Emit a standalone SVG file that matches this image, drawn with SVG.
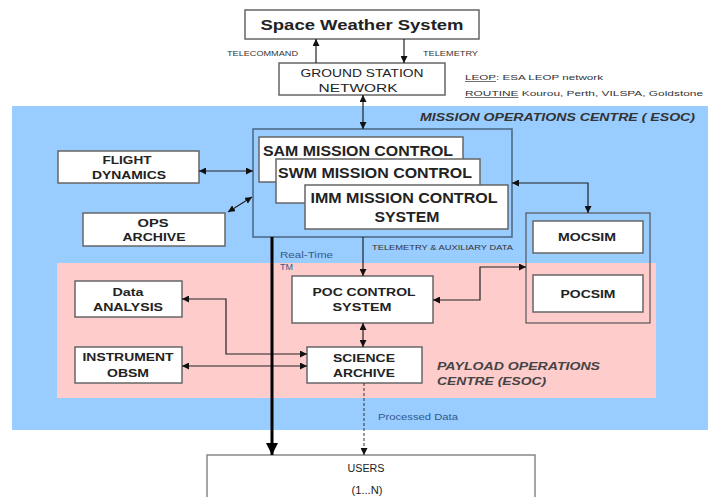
<svg xmlns="http://www.w3.org/2000/svg" width="708" height="497" viewBox="0 0 708 497">
<defs>
<marker id="ah" viewBox="0 0 10 10" refX="10" refY="5" markerWidth="7" markerHeight="7" markerUnits="userSpaceOnUse" orient="auto-start-reverse"><path d="M0,0 L10,5 L0,10 z" fill="#111"/></marker>
<marker id="big" viewBox="0 0 10 10" refX="10" refY="5" markerWidth="4" markerHeight="4" orient="auto"><path d="M0,0 L10,5 L0,10 z" fill="#000"/></marker>
</defs>
<style>
.box{fill:#fff;stroke:#666;stroke-width:1.5}
.t{font-family:"Liberation Sans",Arial,sans-serif;fill:#222;text-anchor:middle}
.b{font-weight:bold}
.sm{font-family:"Liberation Sans",Arial,sans-serif;fill:#333;font-size:7px}
.bl{font-family:"Liberation Sans",Arial,sans-serif;fill:#335a88;font-size:9px}
.c{fill:none;stroke:#222;stroke-width:1.2}
</style>
<rect x="12" y="106" width="696" height="324" fill="#99ccff"/>
<rect x="57" y="263" width="599" height="135" fill="#ffcccc"/>

<g id="sws"><rect class="box" x="245" y="10" width="234" height="29"/><text class="t b" x="362" y="30" font-size="15" textLength="203" lengthAdjust="spacingAndGlyphs">Space Weather System</text></g>
<g id="gsn"><rect class="box" x="279" y="63" width="166" height="32"/><text class="t" x="362" y="77" font-size="11" textLength="123" lengthAdjust="spacingAndGlyphs">GROUND STATION</text><text class="t" x="358" y="92" font-size="11" textLength="79" lengthAdjust="spacingAndGlyphs">NETWORK</text></g>
<g id="notes">
<text class="sm" x="227" y="56" textLength="71" lengthAdjust="spacingAndGlyphs">TELECOMMAND</text>
<text class="sm" x="423" y="56" textLength="55" lengthAdjust="spacingAndGlyphs">TELEMETRY</text>
<text class="sm" x="465" y="80" font-size="8" textLength="138" lengthAdjust="spacingAndGlyphs"><tspan text-decoration="underline">LEOP</tspan>: ESA LEOP network</text>
<text class="sm" x="465" y="96" font-size="8" textLength="238" lengthAdjust="spacingAndGlyphs"><tspan text-decoration="underline">ROUTINE</tspan> Kourou, Perth, VILSPA, Goldstone</text>
<text x="420" y="121" font-family="Liberation Sans,Arial,sans-serif" font-size="11" font-weight="bold" font-style="italic" fill="#333" textLength="275" lengthAdjust="spacingAndGlyphs">MISSION OPERATIONS CENTRE ( ESOC)</text>
<text x="437" y="370" font-family="Liberation Sans,Arial,sans-serif" font-size="11.5" font-weight="bold" font-style="italic" fill="#444" textLength="163" lengthAdjust="spacingAndGlyphs">PAYLOAD OPERATIONS</text>
<text x="437" y="385" font-family="Liberation Sans,Arial,sans-serif" font-size="11.5" font-weight="bold" font-style="italic" fill="#444" textLength="109" lengthAdjust="spacingAndGlyphs">CENTRE (ESOC)</text>
<text class="bl" x="280" y="258" textLength="53" lengthAdjust="spacingAndGlyphs">Real-Time</text>
<text class="bl" x="280" y="270">TM</text>
<text class="sm" x="372" y="250" textLength="141" lengthAdjust="spacingAndGlyphs">TELEMETRY &amp; AUXILIARY DATA</text>
<text class="bl" x="378" y="420" textLength="80" lengthAdjust="spacingAndGlyphs">Processed Data</text>
</g>

<g id="mcc">
<rect x="253" y="129" width="259" height="108" fill="none" stroke="#4a6580" stroke-width="1.5"/>
<rect class="box" x="259" y="137" width="204" height="45"/><text class="t b" x="358" y="156" font-size="14" textLength="190" lengthAdjust="spacingAndGlyphs">SAM MISSION CONTROL</text>
<rect class="box" x="276" y="159" width="204" height="44"/><text class="t b" x="375" y="178" font-size="14" textLength="194" lengthAdjust="spacingAndGlyphs">SWM MISSION CONTROL</text>
<rect class="box" x="305" y="185" width="203" height="44"/><text class="t b" x="404" y="203" font-size="14" textLength="187" lengthAdjust="spacingAndGlyphs">IMM MISSION CONTROL</text><text class="t b" x="407" y="222" font-size="14" textLength="65" lengthAdjust="spacingAndGlyphs">SYSTEM</text>
</g>
<g id="fd"><rect class="box" x="58" y="151" width="141" height="32"/><text class="t b" x="127" y="164" font-size="11" textLength="49" lengthAdjust="spacingAndGlyphs">FLIGHT</text><text class="t b" x="129" y="179" font-size="11" textLength="74" lengthAdjust="spacingAndGlyphs">DYNAMICS</text></g>
<g id="ops"><rect class="box" x="83" y="213" width="142" height="33"/><text class="t b" x="153" y="227" font-size="11" textLength="31" lengthAdjust="spacingAndGlyphs">OPS</text><text class="t b" x="154" y="241" font-size="11" textLength="63" lengthAdjust="spacingAndGlyphs">ARCHIVE</text></g>
<g id="sim"><rect x="526" y="213" width="124" height="110" fill="none" stroke="#555" stroke-width="1.2"/>
<rect class="box" x="533" y="221" width="110" height="32"/><text class="t b" x="587" y="241" font-size="11" textLength="58" lengthAdjust="spacingAndGlyphs">MOCSIM</text>
<rect class="box" x="533" y="275" width="110" height="37"/><text class="t b" x="588" y="298" font-size="11" textLength="55" lengthAdjust="spacingAndGlyphs">POCSIM</text></g>
<g id="poc"><rect class="box" x="292" y="276" width="141" height="47"/><text class="t b" x="364" y="296" font-size="11" textLength="103" lengthAdjust="spacingAndGlyphs">POC CONTROL</text><text class="t b" x="362" y="311" font-size="11" textLength="59" lengthAdjust="spacingAndGlyphs">SYSTEM</text></g>
<g id="sa"><rect class="box" x="307" y="347" width="115" height="36"/><text class="t b" x="364" y="362" font-size="11" textLength="62" lengthAdjust="spacingAndGlyphs">SCIENCE</text><text class="t b" x="364" y="377" font-size="11" textLength="62" lengthAdjust="spacingAndGlyphs">ARCHIVE</text></g>
<g id="da"><rect class="box" x="75" y="281" width="107" height="36"/><text class="t b" x="128" y="296" font-size="11" textLength="31" lengthAdjust="spacingAndGlyphs">Data</text><text class="t b" x="128" y="311" font-size="11" textLength="70" lengthAdjust="spacingAndGlyphs">ANALYSIS</text></g>
<g id="obsm"><rect class="box" x="75" y="347" width="107" height="36"/><text class="t b" x="128" y="361" font-size="11" textLength="91" lengthAdjust="spacingAndGlyphs">INSTRUMENT</text><text class="t b" x="128" y="377" font-size="11" textLength="42" lengthAdjust="spacingAndGlyphs">OBSM</text></g>
<g id="users"><rect x="207" y="455" width="328" height="60" fill="#fff" stroke="#888" stroke-width="1.5"/><text class="t" x="366" y="472" font-size="10" textLength="37" lengthAdjust="spacingAndGlyphs">USERS</text><text class="t" x="367" y="494" font-size="10" textLength="31" lengthAdjust="spacingAndGlyphs">(1...N)</text></g>

<g id="connectors">
<line class="c" x1="316" y1="63" x2="316" y2="39" marker-end="url(#ah)"/>
<line class="c" x1="404" y1="39" x2="404" y2="63" marker-end="url(#ah)"/>
<line class="c" x1="363" y1="95" x2="363" y2="129" marker-start="url(#ah)" marker-end="url(#ah)"/>
<line class="c" x1="199" y1="171" x2="253" y2="171" marker-start="url(#ah)" marker-end="url(#ah)"/>
<line class="c" x1="228" y1="212" x2="252" y2="197" marker-start="url(#ah)" marker-end="url(#ah)"/>
<polyline class="c" points="512,183 588,183 588,213" marker-start="url(#ah)" marker-end="url(#ah)"/>
<line class="c" x1="363" y1="237" x2="363" y2="276" marker-end="url(#ah)"/>
<polyline class="c" points="433,300 480,300 480,267 526,267" marker-start="url(#ah)" marker-end="url(#ah)"/>
<line class="c" x1="363" y1="323" x2="363" y2="347" marker-start="url(#ah)" marker-end="url(#ah)"/>
<polyline class="c" points="182,299 226,299 226,354 307,354" marker-start="url(#ah)" marker-end="url(#ah)"/>
<line class="c" x1="182" y1="366" x2="307" y2="366" marker-start="url(#ah)" marker-end="url(#ah)"/>
<line x1="272" y1="237" x2="272" y2="455" stroke="#000" stroke-width="3" marker-end="url(#big)"/>
<line x1="364" y1="383" x2="364" y2="455" stroke="#333" stroke-width="1" stroke-dasharray="3,2" marker-end="url(#ah)"/>
</g>
</svg>
